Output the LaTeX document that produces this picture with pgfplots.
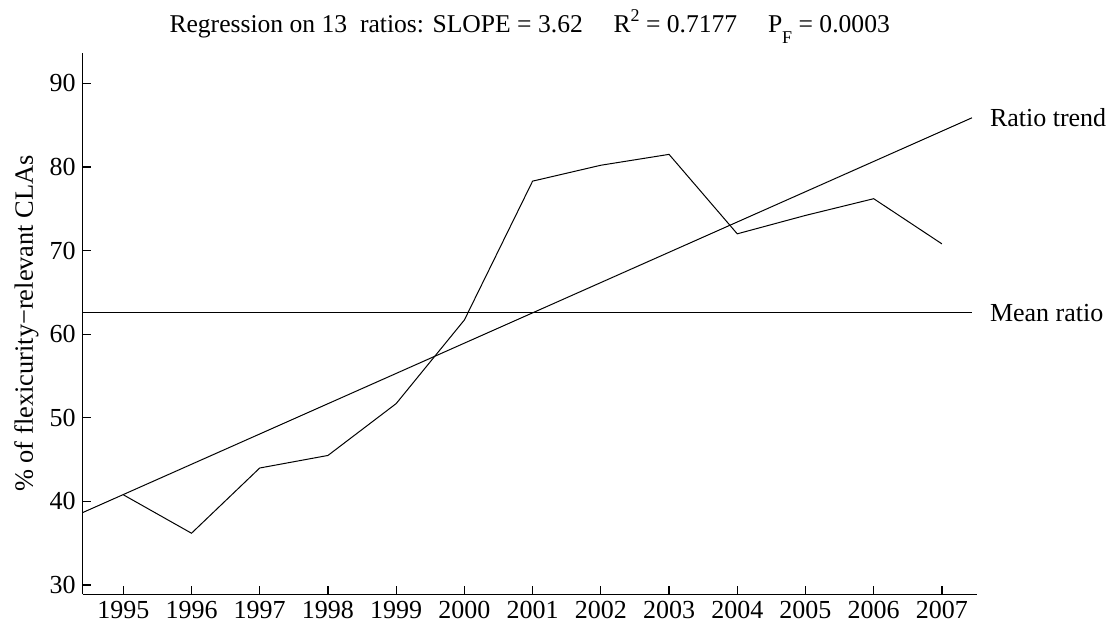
\documentclass[border=0pt]{standalone}
\usepackage{fontspec}
\setmainfont{Liberation Serif}
\usepackage{pgfplots}
\usepackage{pgfplotstable}
\pgfplotsset{compat=1.18}

\pgfplotstableread{
year ratio
1995 40.8
1996 36.2
1997 44.0
1998 45.5
1999 51.7
2000 61.7
2001 78.3
2002 80.2
2003 81.5
2004 72.0
2005 74.2
2006 76.2
2007 70.8
}\ratios

\pgfplotstableread{
year trend
1994.405 38.67
2007.44 85.87
}\trend

\pgfplotstableread{
year mean
1994.405 62.56
2007.44 62.56
}\meanratio

\begin{document}
\begin{tikzpicture}
\begin{axis}[
  at={(41.35pt,14.85pt)}, anchor=south west,
  scale only axis, width=447pt, height=270.8pt,
  xmin=1994.405, xmax=2007.51, ymin=28.9, ymax=93.66,
  axis lines=left, axis line style={-, line width=0.65pt},
  xtick={1995,1996,...,2007}, ytick={30,40,...,90},
  tick align=inside, major tick length=4pt,
  tick style={black, line width=0.6pt},
  /pgf/number format/1000 sep={},
  /pgf/number format/assume math mode=true,
  tick label style={font=\fontsize{13}{15}\selectfont},
  ylabel={\% of flexicurity−relevant CLAs},
  ylabel style={at={(axis description cs:-0.063,0.5)}, anchor=center, font=\fontsize{13.2}{15}\selectfont},
  clip=false,
]
\addplot[black, line width=0.5pt] table[x=year, y=ratio] {\ratios};
\addplot[black, line width=0.5pt] table[x=year, y=trend] {\trend};
\addplot[black, line width=0.5pt] table[x=year, y=mean] {\meanratio};
\node[anchor=west, font=\fontsize{13}{15}\selectfont, xshift=5.5pt] at (axis cs:2007.44,85.87) {Ratio trend};
\node[anchor=west, font=\fontsize{13}{15}\selectfont, xshift=5.5pt] at (axis cs:2007.44,62.56) {Mean ratio};
\node[anchor=base, font=\fontsize{12.8}{15}\selectfont, yshift=9.85pt] at (axis description cs:0.5,1)
  {Regression on 13\ \ ratios: SLOPE = 3.62\hspace{1.2em}R\raisebox{1.0ex}{\small 2} = 0.7177\hspace{1.2em}P\raisebox{-0.9ex}{\small F} = 0.0003};
\end{axis}
\pgfresetboundingbox
\path (0,0) rectangle (554pt,312pt);
\end{tikzpicture}
\end{document}
